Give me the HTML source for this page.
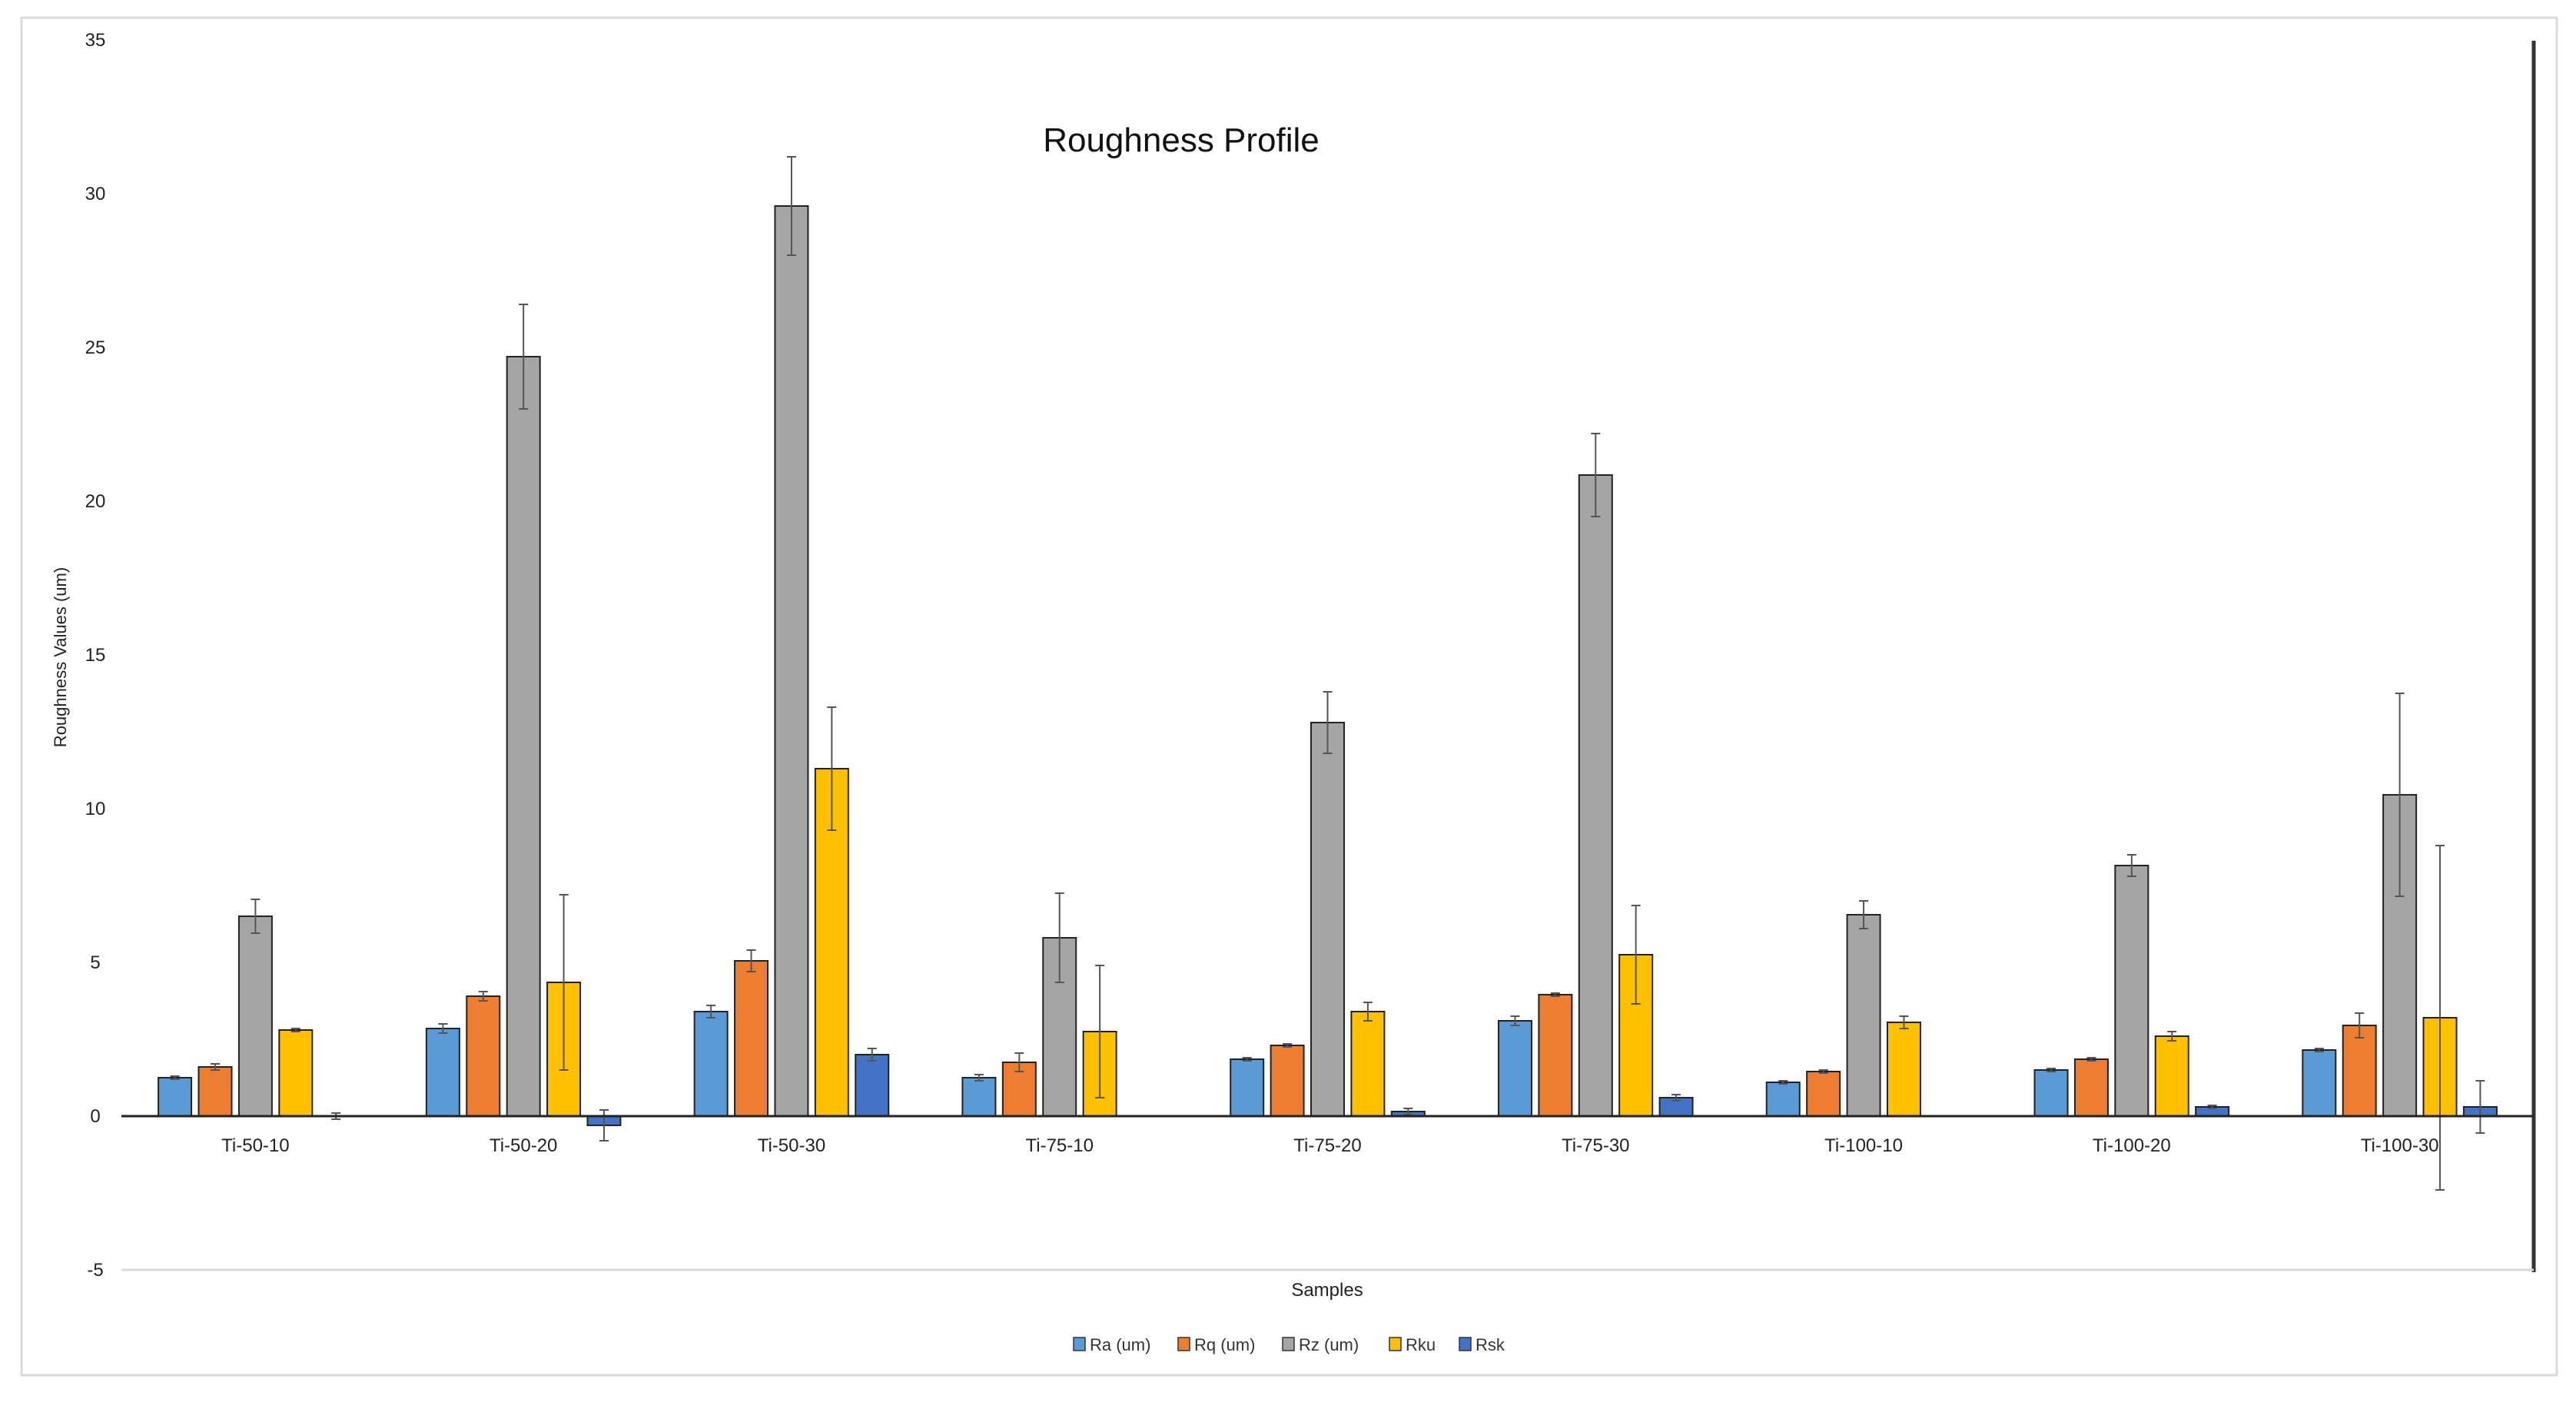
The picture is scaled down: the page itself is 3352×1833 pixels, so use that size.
<!DOCTYPE html>
<html><head><meta charset="utf-8"><style>
html,body{margin:0;padding:0;background:#fff;}
svg{display:block;font-family:"Liberation Sans",sans-serif;}
</style></head><body>
<svg id="chart" width="3352" height="1833" viewBox="0 0 3352 1833">
<rect x="28" y="23" width="3299" height="1766" fill="#fff" stroke="#d9d9d9" stroke-width="3"/>
<text x="1537" y="197" font-size="44" text-anchor="middle" fill="#111">Roughness Profile</text>
<text transform="translate(86,855) rotate(-90)" font-size="22" text-anchor="middle" fill="#222">Roughness Values (um)</text>
<text x="1727" y="1686" font-size="24" text-anchor="middle" fill="#222">Samples</text>
<line x1="3297" y1="53" x2="3297" y2="1655" stroke="#333" stroke-width="5"/>
<g id="grid"></g><g id="bars"></g><g id="axes"></g><g id="legend"></g>
</svg>
<script>
const categories = ["Ti-50-10","Ti-50-20","Ti-50-30","Ti-75-10","Ti-75-20","Ti-75-30","Ti-100-10","Ti-100-20","Ti-100-30"];
const seriesNames = ["Ra (um)","Rq (um)","Rz (um)","Rku","Rsk"];
const raValues  = [1.25,2.85,3.4,1.25,1.85,3.1,1.1,1.5,2.15];
const rqValues  = [1.6,3.9,5.05,1.75,2.3,3.95,1.45,1.85,2.95];
const rzValues  = [6.5,24.7,29.6,5.8,12.8,20.85,6.55,8.15,10.45];
const rkuValues = [2.8,4.35,11.3,2.75,3.4,5.25,3.05,2.6,3.2];
const rskValues = [0.0,-0.3,2.0,0.0,0.15,0.6,0.0,0.3,0.3];
const raErr  = [0.05,0.15,0.2,0.1,0.05,0.15,0.05,0.05,0.05];
const rqErr  = [0.1,0.15,0.35,0.3,0.05,0.05,0.05,0.05,0.4];
const rzErr  = [0.55,1.7,1.6,1.45,1.0,1.35,0.45,0.35,3.3];
const rkuErr = [0.05,2.85,2.0,2.15,0.3,1.6,0.2,0.15,5.6];
const rskErr = [0.1,0.5,0.2,0,0.1,0.1,0,0.05,0.85];
const yTicks = [-5,0,5,10,15,20,25,30,35];

const NS="http://www.w3.org/2000/svg";
const colors=["#5b9bd5","#ed7d31","#a5a5a5","#ffc000","#4472c4"];
const seriesVals=[raValues,rqValues,rzValues,rkuValues,rskValues];
const seriesErr=[raErr,rqErr,rzErr,rkuErr,rskErr];
const keys=["ra","rq","rz","rku","rsk"];
const x0=158, x1=3297, yZero=1452, unit=40;
const catW=(x1-x0)/categories.length;
function y(v){return yZero - v*unit;}
function cx(i){return x0 + catW*(i+0.5);}
function mk(tag,attrs,parent){const e=document.createElementNS(NS,tag);for(const k in attrs)e.setAttribute(k,attrs[k]);parent.appendChild(e);return e;}
const grid=document.getElementById('grid'),bars=document.getElementById('bars'),axes=document.getElementById('axes'),legend=document.getElementById('legend');

yTicks.forEach(t=>{
  const tl=mk('text',{x:124,y:y(t)+8,'font-size':24,'text-anchor':'middle',fill:'#222'},axes);
  tl.textContent=t;
  
  
});
const g5=mk('line',{x1:x0,x2:x1,y1:y(-5),y2:y(-5),stroke:'#d9d9d9','stroke-width':3},grid);



const bw=43, step=52.4;
categories.forEach((c,i)=>{
  for(let s=0;s<5;s++){
    const v=seriesVals[s][i], e=seriesErr[s][i];
    const bx=cx(i)+(s-2)*step-bw/2;
    const top=Math.min(y(v),y(0)), h=Math.max(Math.abs(y(v)-y(0)),0.01);
    const r=mk('rect',{x:bx,y:top,width:bw,height:h,fill:colors[s],stroke:'#222','stroke-width':2},bars);
    
    
    if(e>0){
      const ex=bx+bw/2;
      const el=mk('path',{d:`M${ex},${y(v+e)}V${y(v-e)}M${ex-6},${y(v+e)}H${ex+6}M${ex-6},${y(v-e)}H${ex+6}`,stroke:'#555','stroke-width':2,fill:'none'},bars);
      
      
    }
  }
  const cl=mk('text',{x:cx(i),y:1498,'font-size':24,'text-anchor':'middle',fill:'#222'},axes);
  cl.textContent=c;
  
  
});
const ax=mk('line',{x1:x0,x2:x1,y1:yZero,y2:yZero,stroke:'#222','stroke-width':3},axes);



const lx=[1397,1533,1669,1808,1899];
seriesNames.forEach((n,s)=>{
  const sw=mk('rect',{x:lx[s],y:1740,width:15,height:17,fill:colors[s],stroke:'#333','stroke-width':1.5},legend);
  
  
  const t=mk('text',{x:lx[s]+21,y:1757,'font-size':22,fill:'#333'},legend);
  t.textContent=n;
  
  
});
</script>
</body></html>
